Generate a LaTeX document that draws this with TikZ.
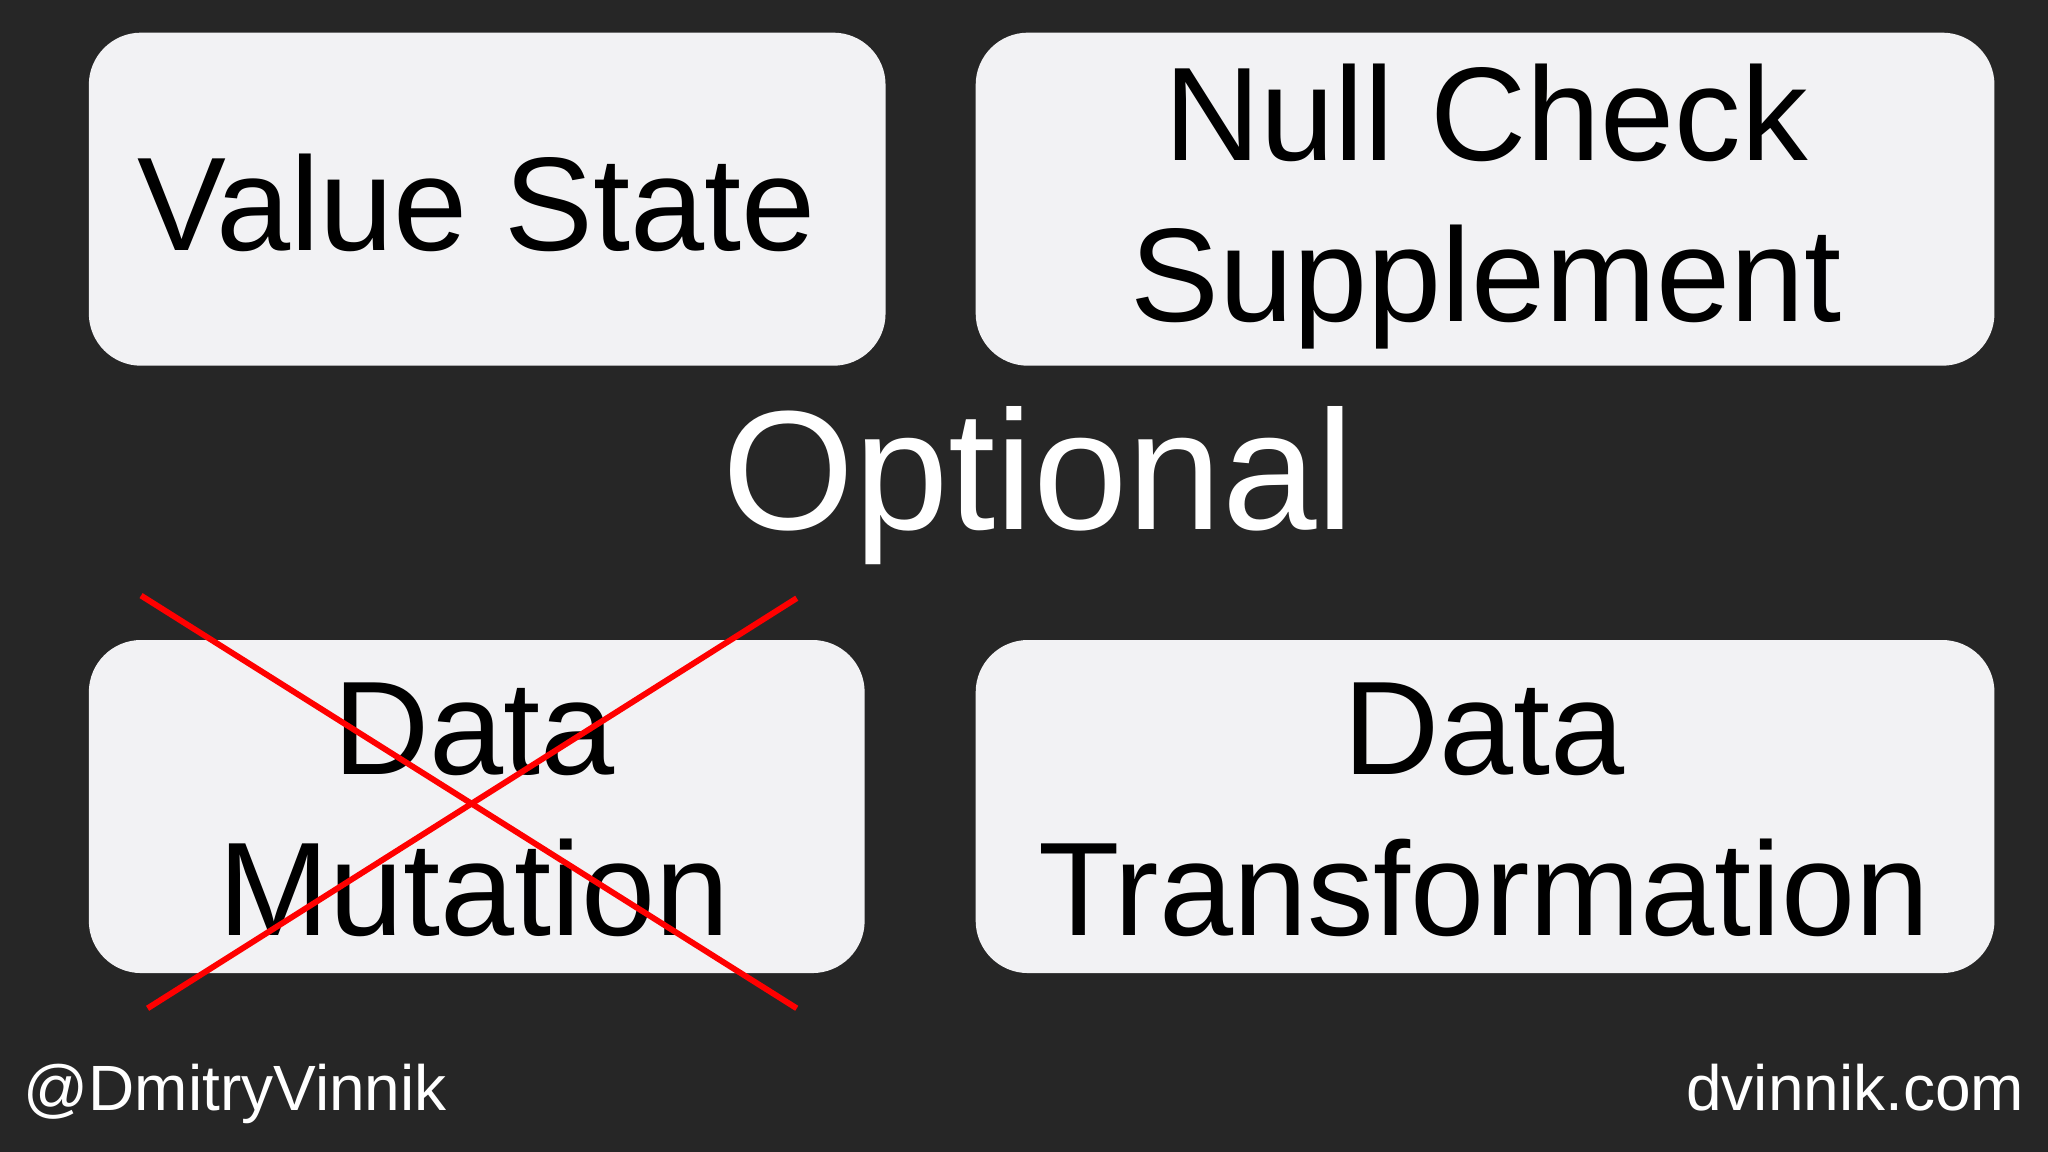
\documentclass[tikz,border=0pt]{standalone}
\usepackage{fontspec}
\setmainfont{Liberation Sans}
\definecolor{bg}{HTML}{262626}
\definecolor{boxc}{HTML}{F2F2F4}
\begin{document}
\begin{tikzpicture}[x=1pt,y=-1pt,
  card/.style={fill=boxc,rounded corners=40pt},
  cardtxt/.style={text=black,align=center,font=\fontsize{102}{123}\selectfont},
  cross/.style={draw=red,line width=4.5pt}]
\fill[bg] (0,0) rectangle (1568,882);
\useasboundingbox (0,0) rectangle (1568,882);
\fill[card] (68,25) rectangle (678,280);
\fill[card] (747,25) rectangle (1527,280);
\fill[card] (68,490) rectangle (662,745);
\fill[card] (747,490) rectangle (1527,745);
\node[cardtxt] (vs) at (365,155) {Value State};
\node[cardtxt] (nc) at (1138,158) {Null Check\\Supplement};
\node[cardtxt] (dm) at (363,620) {Data\\Mutation};
\node[cardtxt] (dt) at (1136,620) {Data\\Transformation};
\node[text=white,font=\fontsize{130}{130}\selectfont] (opt) at (795,372) {Optional};
\coordinate (a1) at (108,456); \coordinate (a2) at (610,772);
\coordinate (b1) at (113,772); \coordinate (b2) at (610,458);
\draw[cross] (a1) -- (a2);
\draw[cross] (b1) -- (b2);
\node[text=white,anchor=base west,font=\fontsize{49}{49}\selectfont,inner sep=0] (h) at (18,850) {@DmitryVinnik};
\node[text=white,anchor=base east,font=\fontsize{49}{49}\selectfont,inner sep=0] (w) at (1550,850) {dvinnik.com};
\end{tikzpicture}
\end{document}
